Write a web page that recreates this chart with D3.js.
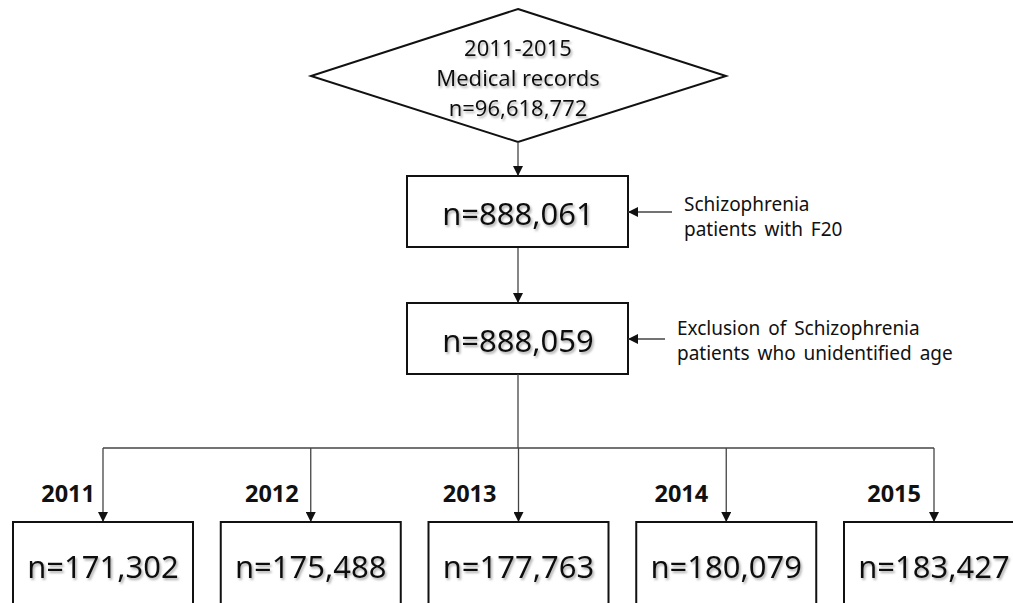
<!DOCTYPE html>
<meta charset='utf-8'>
<head>
    <title>Flow chart</title>
    <script src='https://cdn.jsdelivr.net/npm/d3@7/dist/d3.min.js'></script>
</head>

<style>
    body { margin: 0; background: white; }
    text { font-family: 'Noto Sans', sans-serif; fill: #111; }
    .box { fill: white; stroke: #111; stroke-width: 2px; }
    .link { fill: none; stroke: #444; stroke-width: 1.3px; }
</style>

<svg></svg>

<script>
    var vWidth = 1013;
    var vHeight = 603;

    // data
    var topLines = ['2011-2015', 'Medical records', 'n=96,618,772'];
    var stepCounts = [888061, 888059];
    var stepNotes = [
        ['Schizophrenia', 'patients with F20'],
        ['Exclusion of Schizophrenia', 'patients who unidentified age']
    ];
    var years = ['2011', '2012', '2013', '2014', '2015'];
    var yearCounts = [171302, 175488, 177763, 180079, 183427];

    var fmt = d3.format(',');
    var cx = 518;

    var svg = d3.select('svg').attr('width', vWidth).attr('height', vHeight);

    var defs = svg.append('defs');
    defs.append('marker').attr('id', 'arr')
        .attr('viewBox', '0 0 10 10').attr('refX', 10).attr('refY', 5)
        .attr('markerWidth', 10).attr('markerHeight', 10).attr('markerUnits', 'userSpaceOnUse')
        .attr('orient', 'auto')
        .append('path').attr('d', 'M0,0L10,5L0,10Z').attr('fill', '#111');
    defs.append('filter').attr('id', 'shadow')
        .attr('x', '-10%').attr('y', '-20%').attr('width', '130%').attr('height', '150%')
        .append('feDropShadow').attr('dx', 1.5).attr('dy', 2).attr('stdDeviation', 1.3)
        .attr('flood-color', '#777').attr('flood-opacity', 0.6);

    // top diamond
    svg.append('path').attr('class', 'box').attr('stroke-width', 1.5)
        .attr('d', 'M' + cx + ',9L726,76L' + cx + ',142L311,76Z');
    svg.selectAll('.top-text').data(topLines).enter().append('text')
        .attr('x', cx).attr('y', function (d, i) { return 56 + i * 30; })
        .attr('text-anchor', 'middle').attr('font-size', 22)
        .attr('filter', 'url(#shadow)')
        .text(function (d) { return d; });

    // step boxes
    var stepY = d3.scalePoint().domain(d3.range(stepCounts.length)).range([176, 303]);
    var boxW = 221, boxH = 71;

    var link = d3.line();
    svg.append('path').attr('class', 'link').attr('marker-end', 'url(#arr)')
        .attr('d', link([[cx, 142], [cx, stepY(0)]]));
    svg.append('path').attr('class', 'link').attr('marker-end', 'url(#arr)')
        .attr('d', link([[cx, stepY(0) + boxH], [cx, stepY(1)]]));

    var steps = svg.selectAll('.step').data(stepCounts).enter().append('g')
        .attr('transform', function (d, i) { return 'translate(407,' + stepY(i) + ')'; });
    steps.append('rect').attr('class', 'box').attr('width', boxW).attr('height', boxH);
    steps.append('text').attr('x', cx - 407).attr('y', boxH / 2 + 13)
        .attr('text-anchor', 'middle').attr('font-size', 31)
        .attr('filter', 'url(#shadow)')
        .text(function (d) { return 'n=' + fmt(d); });

    // side notes
    var noteArrow = [212, 339];
    var notes = svg.selectAll('.note').data(stepNotes).enter().append('g')
        .attr('transform', function (d, i) { return 'translate(628,' + noteArrow[i] + ')'; });
    notes.append('path').attr('class', 'link').attr('marker-end', 'url(#arr)')
        .attr('d', function (d, i) { return link([[i ? 37 : 44, 0], [0, 0]]); });
    notes.each(function (d, i) {
        d3.select(this).selectAll('text').data(d).enter().append('text')
            .attr('x', i ? 49 : 56)
            .attr('y', function (t, j) { return (i ? -4 : -1) + j * 25; })
            .attr('font-size', 19).attr('word-spacing', 3)
            .text(function (t) { return t; });
    });

    // year branches
    var x = d3.scalePoint().domain(years).range([103, 934]);
    var branchY = 448, yearTop = 522, yearW = 180;

    svg.append('path').attr('class', 'link')
        .attr('d', link([[cx, stepY(1) + boxH], [cx, branchY]]));
    svg.append('path').attr('class', 'link')
        .attr('d', link([[x(years[0]), branchY], [x(years[years.length - 1]), branchY]]));

    var yr = svg.selectAll('.year').data(years).enter().append('g');
    yr.append('path').attr('class', 'link').attr('marker-end', 'url(#arr)')
        .attr('d', function (d) { return link([[x(d), branchY], [x(d), yearTop]]); });
    yr.append('text').attr('x', function (d, i) { return x(d) - [8, 12, 22, 18, 13][i]; }).attr('y', 502)
        .attr('text-anchor', 'end').attr('font-size', 23.5).attr('font-weight', 'bold')
        .text(function (d) { return d; });
    yr.append('rect').attr('class', 'box')
        .attr('x', function (d) { return x(d) - yearW / 2; }).attr('y', yearTop)
        .attr('width', yearW).attr('height', 120);
    yr.append('text').attr('x', function (d) { return x(d); }).attr('y', 578)
        .attr('text-anchor', 'middle').attr('font-size', 31)
        .attr('filter', 'url(#shadow)')
        .text(function (d, i) { return 'n=' + fmt(yearCounts[i]); });
</script>
